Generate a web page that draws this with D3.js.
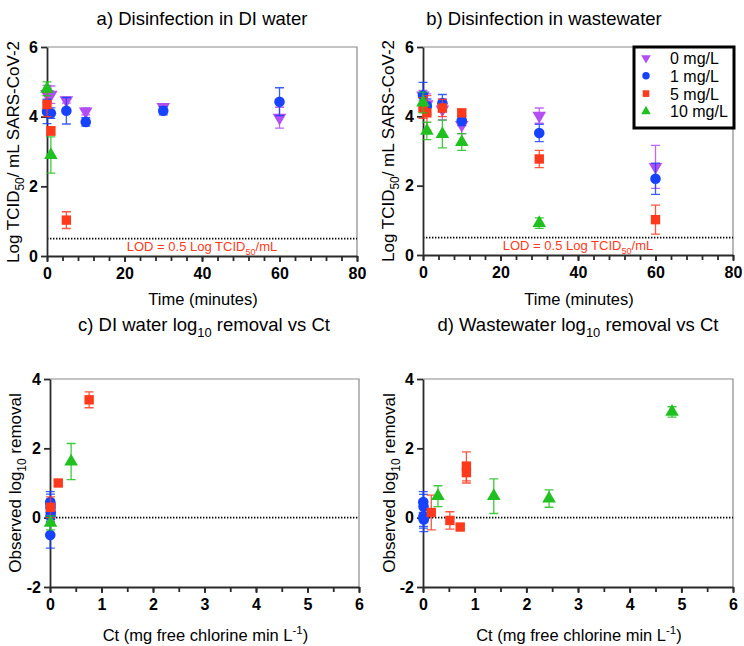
<!DOCTYPE html>
<html>
<head>
<meta charset="utf-8">
<script src="https://cdn.jsdelivr.net/npm/d3@7"></script>
<style>
body { margin: 0; background: #fff; }
text { font-family: "Liberation Sans", Arial, sans-serif; fill: #000; }
</style>
</head>
<body>
<svg id="chart" width="744" height="646"></svg>
<script>
// Chlorine doses (legend) and their markers
var doses = ["0 mg/L", "1 mg/L", "5 mg/L", "10 mg/L"];
var doseColors = ["#b24ef2", "#1742ff", "#ff3a1c", "#1fc01f"];
var doseShapes = ["down", "circle", "square", "up"];

// a) DI water: time (min), log TCID50/mL, error
var diTimes = [[0, 1, 5, 10, 30, 60], [0, 1, 5, 10, 30, 60], [0, 1, 5], [0, 1]];
var diLog   = [[4.65, 4.63, 4.47, 4.15, 4.28, 3.97], [4.15, 4.1, 4.17, 3.85, 4.17, 4.43], [4.35, 3.59, 1.03], [4.8, 2.9]];
var diErr   = [[0.25, 0.25, 0.08, 0.1, 0.08, 0.3], [0.35, 0.15, 0.38, 0.12, 0.12, 0.4], [0.35, 0.12, 0.24], [0.2, 0.52]];

// b) wastewater
var wwTimes = [[0, 1, 5, 10, 30, 60], [0, 1, 5, 10, 30, 60], [0, 1, 5, 10, 30, 60], [0, 1, 5, 10, 30]];
var wwLog   = [[4.6, 4.35, 4.2, 3.75, 4.02, 2.54], [4.6, 4.3, 4.38, 3.88, 3.52, 2.2], [4.24, 4.1, 4.24, 4.1, 2.77, 1.02], [4.4, 3.58, 3.49, 3.26, 0.92]];
var wwErr   = [[0.15, 0.3, 0.3, 0.25, 0.22, 0.62], [0.38, 0.2, 0.25, 0.15, 0.25, 0.45], [0.3, 0.5, 0.25, 0.1, 0.25, 0.42], [0.3, 0.25, 0.4, 0.24, 0.15]];

// c) DI water log10 removal vs Ct (no 0 mg/L series)
var diCt      = [[], [0.005, 0.01, 0.01, 0.015, 0.01, 0.005], [0.01, 0.16, 0.76], [0.01, 0.41]];
var diRemoval = [[], [0.45, 0.38, 0.28, 0.15, 0.05, -0.5], [0.3, 1.0, 3.4], [-0.15, 1.62]];
var diRemErr  = [[], [0.3, 0.3, 0.25, 0.2, 0.15, 0.38], [0.3, 0.08, 0.23], [0.2, 0.52]];

// d) wastewater log10 removal vs Ct
var wwCt      = [[], [0.005, 0.01, 0.01, 0.015, 0.01], [0.16, 0.52, 0.72, 0.84, 0.84], [0.29, 1.37, 2.44, 4.82]];
var wwRemoval = [[], [0.45, 0.32, 0.05, -0.05, 0.0], [0.15, -0.08, -0.27, 1.48, 1.3], [0.62, 0.62, 0.55, 3.05]];
var wwRemErr  = [[], [0.3, 0.35, 0.3, 0.35, 0.3], [0.5, 0.25, 0.06, 0.42, 0.3], [0.3, 0.5, 0.25, 0.15]];

var timeTicks = [0, 20, 40, 60, 80];
var logTicks = [0, 2, 4, 6];
var ctTicks = [0, 1, 2, 3, 4, 5, 6];
var removalTicks = [-2, 0, 2, 4];

var svg = d3.select("#chart");
var plainNum = function(d) { return String(d); };

function toSeries(xs, ys, es) {
    return doses.map(function(d, i) {
        return { dose: i, points: xs[i].map(function(x, j) { return { x: x, y: ys[i][j], e: es[i][j] }; }) };
    });
}

// write text with sub/superscript parts: [text, "sub"|"sup"|""]
function richText(sel, parts, size) {
    var shift = 0;
    parts.forEach(function(p) {
        var t = sel.append("tspan").text(p[0]);
        var want = p[1] === "sub" ? 0.3 * size : p[1] === "sup" ? -0.4 * size : 0;
        t.attr("dy", want - shift);
        if (p[1]) t.style("font-size", (size * 0.7) + "px");
        shift = want;
    });
}

function symbolFor(shape, big) {
    var type = shape === "circle" ? d3.symbolCircle : shape === "square" ? d3.symbolSquare : d3.symbolTriangle;
    var size = shape === "circle" ? 88 : shape === "square" ? 88 : 80;
    return d3.symbol().type(type).size(big ? size : size * 0.5)();
}

function drawPanel(cfg) {
    var x = d3.scaleLinear().domain(cfg.xDomain).range([cfg.left, cfg.right]);
    var y = d3.scaleLinear().domain(cfg.yDomain).range([cfg.bottom, cfg.top]);
    var g = svg.append("g");

    // light frame on top and right
    g.append("path")
        .attr("d", "M" + cfg.left + "," + cfg.top + "H" + cfg.right + "V" + cfg.bottom)
        .attr("fill", "none").attr("stroke", "#8a8a8a").attr("stroke-width", 1.2);

    // dotted reference line
    g.append("line")
        .attr("x1", cfg.left).attr("x2", cfg.right)
        .attr("y1", y(cfg.refY)).attr("y2", y(cfg.refY))
        .attr("stroke", "#000").attr("stroke-width", 1.6).attr("stroke-dasharray", "1.4,1.6");

    if (cfg.lod) {
        var lt = g.append("text")
            .attr("x", (cfg.left + cfg.right) / 2).attr("y", cfg.bottom - 5)
            .attr("text-anchor", "middle").style("font-size", "13px").style("fill", "#ff3a1c");
        richText(lt, [["LOD = 0.5 Log TCID", ""], ["50", "sub"], ["/mL", ""]], 13);
    }

    // axes
    g.append("g").attr("transform", "translate(0," + cfg.bottom + ")")
        .call(d3.axisBottom(x).tickValues(cfg.xTicks).tickSize(6).tickSizeOuter(0).tickPadding(6).tickFormat(plainNum));
    g.append("g").attr("transform", "translate(0," + cfg.bottom + ")")
        .call(d3.axisBottom(x).tickValues(cfg.xMinor).tickSize(5).tickFormat(""))
        .call(function(a) { a.select(".domain").remove(); });
    g.append("g").attr("transform", "translate(" + cfg.left + ",0)")
        .call(d3.axisLeft(y).tickValues(cfg.yTicks).tickSize(6).tickSizeOuter(0).tickPadding(3).tickFormat(plainNum));
    g.selectAll(".domain, .tick line").attr("stroke", "#2a2a2a").attr("stroke-width", 1.8);
    g.selectAll(".tick text").style("font-size", "16px").style("font-weight", "bold")
        .style("font-family", "'Liberation Sans', Arial, sans-serif");

    // error bars and markers
    cfg.series.forEach(function(s) {
        var col = doseColors[s.dose];
        var sg = g.append("g");
        sg.selectAll(".eb").data(s.points).enter().append("path")
            .attr("d", function(d) {
                var cx = x(d.x), y0 = y(d.y - d.e), y1 = y(d.y + d.e);
                return "M" + cx + "," + y0 + "V" + y1 +
                    "M" + (cx - 4.5) + "," + y0 + "H" + (cx + 4.5) +
                    "M" + (cx - 4.5) + "," + y1 + "H" + (cx + 4.5);
            })
            .attr("fill", "none").attr("stroke", col).attr("stroke-width", 1.3).attr("stroke-opacity", 0.85);
        sg.selectAll(".mk").data(s.points).enter().append("path")
            .attr("d", symbolFor(doseShapes[s.dose], true))
            .attr("transform", function(d) {
                return "translate(" + x(d.x) + "," + y(d.y) + ")" + (doseShapes[s.dose] === "down" ? " rotate(180)" : "");
            })
            .attr("fill", col);
    });

    // titles
    var tt = g.append("text").attr("x", cfg.titleX).attr("y", cfg.titleY)
        .attr("text-anchor", "middle").style("font-size", "18.5px");
    richText(tt, cfg.title, 18.5);
    var xt = g.append("text").attr("x", (cfg.left + cfg.right) / 2 + 1).attr("y", cfg.xLabelY)
        .attr("text-anchor", "middle").style("font-size", "16.5px");
    richText(xt, cfg.xLabel, 16.5);
    var yt = g.append("text")
        .attr("transform", "translate(" + cfg.yLabelX + "," + cfg.yLabelCY + ") rotate(-90)")
        .attr("text-anchor", "middle").style("font-size", "17px");
    richText(yt, cfg.yLabel, 17);
}

var logLabel = [["Log TCID", ""], ["50", "sub"], ["/ mL SARS-CoV-2", ""]];
var remLabel = [["Observed log", ""], ["10", "sub"], [" removal", ""]];
var ctLabel = [["Ct (mg free chlorine min L", ""], ["-1", "sup"], [")", ""]];
var timeLabel = [["Time (minutes)", ""]];

drawPanel({
    left: 47, right: 357, top: 47, bottom: 256,
    xDomain: [0, 80], yDomain: [0, 6], xTicks: timeTicks, xMinor: d3.range(0, 81, 4), yTicks: logTicks,
    refY: 0.5, lod: true, series: toSeries(diTimes, diLog, diErr),
    title: [["a) Disinfection in DI water", ""]], titleX: 202, titleY: 25,
    xLabel: timeLabel, xLabelY: 305, yLabel: logLabel, yLabelX: 19, yLabelCY: 152
});
drawPanel({
    left: 423, right: 733, top: 47, bottom: 255,
    xDomain: [0, 80], yDomain: [0, 6], xTicks: timeTicks, xMinor: d3.range(0, 81, 4), yTicks: logTicks,
    refY: 0.5, lod: true, series: toSeries(wwTimes, wwLog, wwErr),
    title: [["b) Disinfection in wastewater", ""]], titleX: 544, titleY: 25,
    xLabel: timeLabel, xLabelY: 305, yLabel: logLabel, yLabelX: 394, yLabelCY: 151
});
drawPanel({
    left: 50, right: 359, top: 379, bottom: 587,
    xDomain: [0, 6], yDomain: [-2, 4], xTicks: ctTicks, xMinor: d3.range(0, 6.01, 0.5), yTicks: removalTicks,
    refY: 0, lod: false, series: toSeries(diCt, diRemoval, diRemErr),
    title: [["c) DI water log", ""], ["10", "sub"], [" removal vs Ct", ""]], titleX: 204, titleY: 331,
    xLabel: ctLabel, xLabelY: 641, yLabel: remLabel, yLabelX: 21, yLabelCY: 483
});
drawPanel({
    left: 423, right: 733, top: 379, bottom: 587,
    xDomain: [0, 6], yDomain: [-2, 4], xTicks: ctTicks, xMinor: d3.range(0, 6.01, 0.5), yTicks: removalTicks,
    refY: 0, lod: false, series: toSeries(wwCt, wwRemoval, wwRemErr),
    title: [["d) Wastewater log", ""], ["10", "sub"], [" removal vs Ct", ""]], titleX: 578, titleY: 331,
    xLabel: ctLabel, xLabelY: 641, yLabel: remLabel, yLabelX: 395, yLabelCY: 483
});

// legend in panel b
var legend = svg.append("g").attr("transform", "translate(634,47)");
legend.append("rect").attr("width", 100).attr("height", 81)
    .attr("fill", "#fff").attr("stroke", "#000").attr("stroke-width", 3);
var rows = legend.selectAll(".row").data(doses).enter().append("g")
    .attr("transform", function(d, i) { return "translate(12," + (11 + i * 17.8) + ")"; });
rows.append("path")
    .attr("d", function(d, i) { return symbolFor(doseShapes[i], false); })
    .attr("transform", function(d, i) { return doseShapes[i] === "down" ? "rotate(180)" : null; })
    .attr("fill", function(d, i) { return doseColors[i]; });
rows.append("text").attr("x", 24).attr("y", 6).style("font-size", "16px").text(function(d) { return d; });
</script>
</body>
</html>
